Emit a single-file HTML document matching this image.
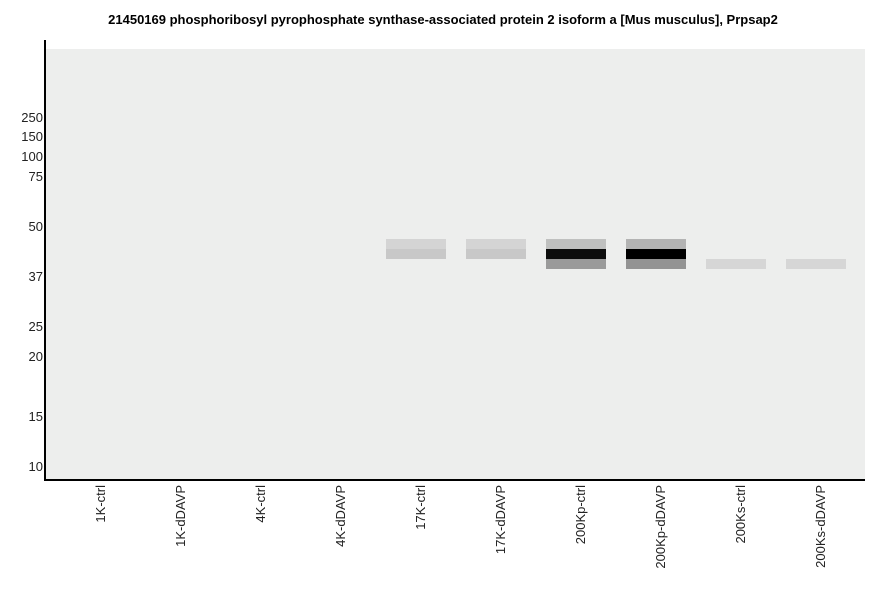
<!DOCTYPE html>
<html><head><style>
body{margin:0;width:886px;height:595px;background:#fff;position:relative;font-family:"Liberation Sans",Arial,sans-serif;overflow:hidden}
.t{position:absolute;top:12px;left:0;width:886px;text-align:center;font-weight:bold;font-size:13px}
.bg{position:absolute;left:46px;top:49px;width:819px;height:430px;background:#edeeed}
.ya{position:absolute;left:44px;top:40px;width:2px;height:441px;background:#000}
.xa{position:absolute;left:44px;top:479px;width:821px;height:2px;background:#000}
.yl{position:absolute;right:843px;font-size:13px;color:#222;line-height:14px}
.b{position:absolute;width:60px;height:10px}
.xl{position:absolute;top:485px;font-size:13px;color:#222;writing-mode:vertical-rl;transform:rotate(180deg);line-height:14px}
</style></head><body>
<div class="t">21450169 phosphoribosyl pyrophosphate synthase-associated protein 2 isoform a [Mus musculus], Prpsap2</div>
<div class="bg"></div>
<div class="ya"></div><div class="xa"></div>
<div class="yl" style="top:111px">250</div>
<div class="yl" style="top:130px">150</div>
<div class="yl" style="top:150px">100</div>
<div class="yl" style="top:170px">75</div>
<div class="yl" style="top:220px">50</div>
<div class="yl" style="top:270px">37</div>
<div class="yl" style="top:320px">25</div>
<div class="yl" style="top:350px">20</div>
<div class="yl" style="top:410px">15</div>
<div class="yl" style="top:460px">10</div>
<div class="b" style="left:386px;top:239px;background:#d4d4d4"></div>
<div class="b" style="left:386px;top:249px;background:#c8c8c8"></div>
<div class="b" style="left:466px;top:239px;background:#d4d4d4"></div>
<div class="b" style="left:466px;top:249px;background:#c8c8c8"></div>
<div class="b" style="left:546px;top:239px;background:#bfc0bf"></div>
<div class="b" style="left:546px;top:249px;background:#0d0d0d"></div>
<div class="b" style="left:546px;top:259px;background:#9a9a9a"></div>
<div class="b" style="left:626px;top:239px;background:#b3b3b3"></div>
<div class="b" style="left:626px;top:249px;background:#000"></div>
<div class="b" style="left:626px;top:259px;background:#939393"></div>
<div class="b" style="left:706px;top:259px;background:#d6d6d6"></div>
<div class="b" style="left:786px;top:259px;background:#d6d6d6"></div>
<div class="xl" style="left:94px">1K-ctrl</div>
<div class="xl" style="left:174px">1K-dDAVP</div>
<div class="xl" style="left:254px">4K-ctrl</div>
<div class="xl" style="left:334px">4K-dDAVP</div>
<div class="xl" style="left:414px">17K-ctrl</div>
<div class="xl" style="left:494px">17K-dDAVP</div>
<div class="xl" style="left:574px">200Kp-ctrl</div>
<div class="xl" style="left:654px">200Kp-dDAVP</div>
<div class="xl" style="left:734px">200Ks-ctrl</div>
<div class="xl" style="left:814px">200Ks-dDAVP</div>
</body></html>
